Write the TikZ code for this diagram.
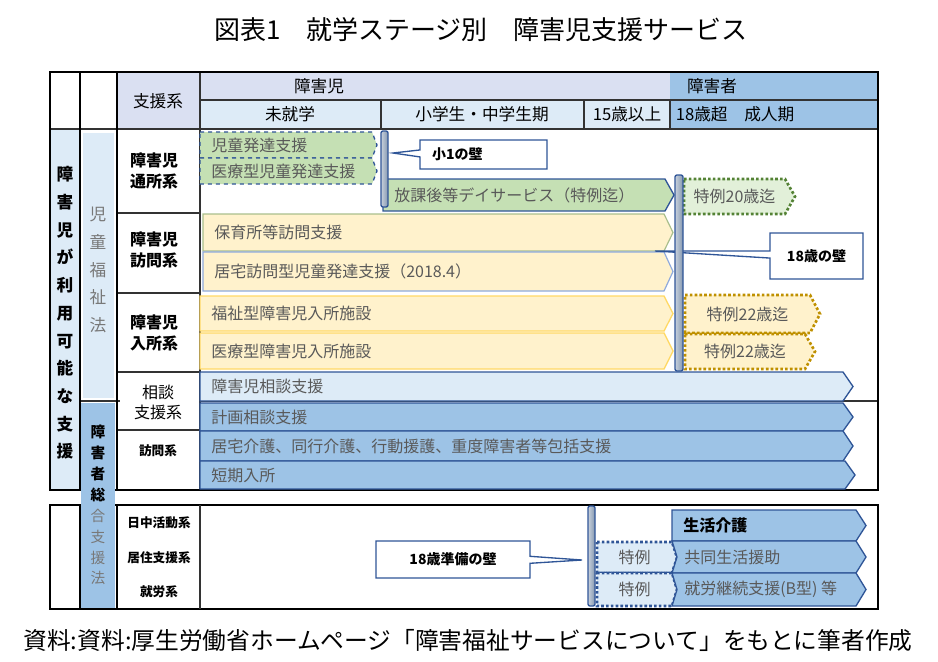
\documentclass[tikz,border=0pt]{standalone}
\usepackage{fontspec}
\setmainfont{Noto Sans CJK JP}
\usetikzlibrary{shapes.callouts}

\definecolor{hdrlav}{RGB}{218,224,242}
\definecolor{hdrsky}{RGB}{221,235,247}
\definecolor{adultblue}{RGB}{157,195,230}
\definecolor{bordblue}{RGB}{47,85,151}
\definecolor{kidgreen}{RGB}{197,224,180}
\definecolor{palegreen}{RGB}{226,240,217}
\definecolor{dotgreen}{RGB}{84,130,53}
\definecolor{creamy}{RGB}{255,242,204}
\definecolor{goldline}{RGB}{255,217,102}
\definecolor{dotgold}{RGB}{191,144,0}
\definecolor{olivegray}{RGB}{169,190,140}
\definecolor{bluegray}{RGB}{143,170,220}
\definecolor{wallgray}{RGB}{132,151,176}
\definecolor{txtgray}{RGB}{89,89,89}
\definecolor{lawgray}{RGB}{120,120,120}

\newdimen\pxu \pxu=0.75pt

\tikzset{
  hdr/.style={font=\fontsize{12.5}{14}\selectfont, inner sep=0pt},
  bartext/.style={font=\fontsize{12}{13}\selectfont, text=txtgray, inner sep=0pt},
  rowlbl/.style={font=\fontsize{12}{16}\selectfont\bfseries, align=left, inner sep=0pt},
  smalllbl/.style={font=\fontsize{9.5}{11}\selectfont\bfseries, inner sep=0pt},
  gridline/.style={line width=0.9pt, black!80},
  frame/.style={line width=1.4pt, black},
  wall/.style={draw=bordblue, line width=1pt, left color=wallgray!45, right color=wallgray, rounded corners=1.5pt, inner sep=0pt},
  wallnote/.style={rectangle callout, draw=bordblue, fill=white, line width=1pt, font=\fontsize{10.5}{12}\selectfont\bfseries, callout pointer width=7\pxu},
  kiddash/.style={fill=kidgreen, draw=bordblue, line width=1pt, dashed},
  kidbar/.style={fill=kidgreen, draw=bordblue, line width=1pt},
  greendot/.style={fill=palegreen, draw=dotgreen, line width=2pt, dash pattern=on 2pt off 1.6pt},
  visitbar/.style={fill=creamy, draw=olivegray, line width=0.9pt},
  homebar/.style={fill=creamy, draw=bluegray, line width=0.9pt},
  staybar/.style={fill=creamy, draw=goldline, line width=1pt},
  golddot/.style={fill=creamy, draw=dotgold, line width=2pt, dash pattern=on 2pt off 1.6pt},
  talkbar/.style={fill=hdrsky, draw=bordblue, line width=1pt},
  adultbar/.style={fill=adultblue, draw=bordblue, line width=1pt},
  bluedot/.style={fill=hdrsky, draw=bordblue, line width=2pt, dash pattern=on 2pt off 1.6pt}
}

% #1 style, #2 name, #3 x1, #4 y1, #5 x2, #6 y2, #7 tip depth, #8 text
\newcommand{\svcbar}[8]{%
  \draw[#1] (#3,#4) -- ({#5-#7},#4) -- (#5,{(#4+#6)/2}) -- ({#5-#7},#6) -- (#3,#6) -- cycle;
  \node[bartext, anchor=west] (#2) at ({#3+11},{(#4+#6)/2}) {#8};}
\newcommand{\tokubar}[8]{%
  \draw[#1] (#3,#4) -- ({#5-#7},#4) -- (#5,{(#4+#6)/2}) -- ({#5-#7},#6) -- (#3,#6) -- cycle;
  \node[bartext] (#2) at ({(#3+#5-#7)/2},{(#4+#6)/2}) {#8};}
\newcommand{\notchbar}[8]{%
  \draw[#1] (#3,#4) -- ({#5-#7},#4) -- (#5,{(#4+#6)/2}) -- ({#5-#7},#6) -- (#3,#6) -- ({#3+5},{(#4+#6)/2}) -- cycle;
  \node[bartext, anchor=west] (#2) at ({#3+12},{(#4+#6)/2}) {#8};}

\begin{document}
\begin{tikzpicture}[x=0.75pt, y=-0.75pt]
  \useasboundingbox (0,0) rectangle (938,661);

  \node[font=\fontsize{19.5}{22}\selectfont] (title) at (481,30) {図表1　就学ステージ別　障害児支援サービス};

  % header and side fills
  \fill[hdrlav] (117,72) rectangle (670,100);
  \fill[hdrlav] (117,100) rectangle (200,129);
  \fill[hdrsky] (200,100) rectangle (670,129);
  \fill[adultblue] (670,72) rectangle (878,129);
  \fill[hdrsky] (50,129) rectangle (80,490);
  \fill[hdrsky] (83,133) rectangle (114,398);

  % grid
  \draw[gridline] (200,100) -- (878,100);
  \draw[gridline] (50,129) -- (878,129);
  \draw[gridline] (381,100) -- (381,129) (584,100) -- (584,129) (670,100) -- (670,129);
  \draw[gridline] (200,72) -- (200,490);
  \draw[gridline] (117,213) -- (200,213) (117,293) -- (200,293) (117,372) -- (200,372) (117,430) -- (200,430);
  \draw[gridline] (200,401) -- (878,401);
  \draw[gridline] (80,401) -- (120,401);
  \draw[frame] (50,72) rectangle (878,490);
  \draw[frame] (80,72) -- (80,490) (117,72) -- (117,490);
  \draw[frame] (50,505) rectangle (878,609);
  \draw[frame] (80,505) -- (80,609) (117,505) -- (117,609);
  \draw[gridline] (200,505) -- (200,609);
  \fill[adultblue] (81,403) rectangle (115,608);

  % header texts
  \node[hdr] (shienkei) at (158,101) {支援系};
  \node[hdr] (jihdr) at (319,86) {障害児};
  \node[hdr] (adulthdr) at (712,86) {障害者};
  \node[hdr] (mishugaku) at (290,114) {未就学};
  \node[hdr] (shochu) at (482,114) {小学生・中学生期};
  \node[hdr] (over15) at (627,114) {15歳以上};
  \node[hdr] (adultage) at (735,114) {18歳超　成人期};

  % side texts
  \node[font=\fontsize{12.5}{20.8}\selectfont\bfseries, align=center, inner sep=0pt] (riyo) at (65,313) {障\\害\\児\\が\\利\\用\\可\\能\\な\\支\\援};
  \node[font=\fontsize{12.5}{20.8}\selectfont, text=lawgray, align=center, inner sep=0pt] (jifuku) at (98,270) {児\\童\\福\\祉\\法};
  \node[font=\fontsize{11}{15.7}\selectfont, align=center, inner sep=0pt] (sogo) at (98,505) {\textbf{障}\\\textbf{害}\\\textbf{者}\\\textbf{総}\\\textcolor{lawgray}{合}\\\textcolor{lawgray}{支}\\\textcolor{lawgray}{援}\\\textcolor{lawgray}{法}};

  % row labels
  \node[rowlbl] (tsusho) at (154,171) {障害児\\通所系};
  \node[rowlbl] (homon) at (154,250) {障害児\\訪問系};
  \node[rowlbl] (nyusho) at (154,333) {障害児\\入所系};
  \node[rowlbl, font=\fontsize{12}{15}\selectfont, align=center] (sodan) at (158,402) {相談\\支援系};
  \node[smalllbl] (homonkei) at (158,451) {訪問系};
  \node[smalllbl] (nitchu) at (159,523) {日中活動系};
  \node[smalllbl] (kyoju) at (159,558) {居住支援系};
  \node[smalllbl] (shuro) at (159,592) {就労系};

  % bars
  \svcbar{kiddash}{jihatsu}{200}{132}{377}{158}{5}{児童発達支援}
  \svcbar{kiddash}{iryojihatsu}{200}{158}{377}{184}{5}{医療型児童発達支援}
  \svcbar{kidbar}{hokago}{383}{179}{674}{211}{9}{放課後等デイサービス（特例迄）}
  \tokubar{greendot}{toku20}{684}{179}{795}{214}{10}{特例20歳迄}
  \svcbar{visitbar}{hoikusho}{203}{214}{673}{251}{9}{保育所等訪問支援}
  \svcbar{homebar}{kyotakuji}{203}{252}{673}{291}{9}{居宅訪問型児童発達支援（2018.4）}
  \svcbar{staybar}{fukushinyu}{200}{296}{673}{331}{9}{福祉型障害児入所施設}
  \svcbar{staybar}{iryonyu}{200}{333}{673}{369}{9}{医療型障害児入所施設}
  \tokubar{golddot}{toku22a}{685}{295}{820}{333}{10}{特例22歳迄}
  \tokubar{golddot}{toku22b}{685}{334}{815}{369}{10}{特例22歳迄}
  \svcbar{talkbar}{jisodan}{200}{372}{853}{401}{10}{障害児相談支援}
  \svcbar{adultbar}{keikaku}{200}{403}{853}{431}{10}{計画相談支援}
  \svcbar{adultbar}{kyotakukaigo}{200}{431}{853}{461}{10}{居宅介護、同行介護、行動援護、重度障害者等包括支援}
  \svcbar{adultbar}{tanki}{200}{461}{855}{489}{10}{短期入所}
  \tokubar{bluedot}{tokua}{597}{542}{677}{573}{5}{特例}
  \tokubar{bluedot}{tokub}{597}{573}{677}{606}{5}{特例}
  \svcbar{adultbar}{seikatsu}{672}{510}{866}{541}{10}{\textcolor{black}{\bfseries 生活介護}}
  \notchbar{adultbar}{kyodo}{672}{541}{866}{573}{10}{共同生活援助}
  \notchbar{adultbar}{shurob}{672}{573}{866}{606}{10}{就労継続支援(B型) 等}

  % walls and notes
  \coordinate (tipone) at (393,153);
  \coordinate (tipeighteen) at (655,251);
  \coordinate (tipprep) at (582,560);
  \node[wallnote, minimum width=127\pxu, minimum height=29\pxu, text width=103\pxu, align=left, callout absolute pointer={(tipone)}] (onenote) at (483.5,154.5) {小1の壁};
  \node[wallnote, minimum width=93\pxu, minimum height=46\pxu, callout absolute pointer={(tipeighteen)}] (eighteennote) at (816.5,256) {18歳の壁};
  \node[wallnote, minimum width=154\pxu, minimum height=37\pxu, callout absolute pointer={(tipprep)}] (prepnote) at (453,559.5) {18歳準備の壁};
  \node[wall, minimum width=7\pxu, minimum height=76\pxu] (wallone) at (384.5,169) {};
  \node[wall, minimum width=8\pxu, minimum height=196\pxu] (walleighteen) at (679,273) {};
  \node[wall, minimum width=7\pxu, minimum height=100\pxu] (wallprep) at (591.5,556) {};

  \node[font=\fontsize{17.8}{20}\selectfont] (source) at (468,640) {資料:資料:厚生労働省ホームページ「障害福祉サービスについて」をもとに筆者作成};
\end{tikzpicture}
\end{document}
